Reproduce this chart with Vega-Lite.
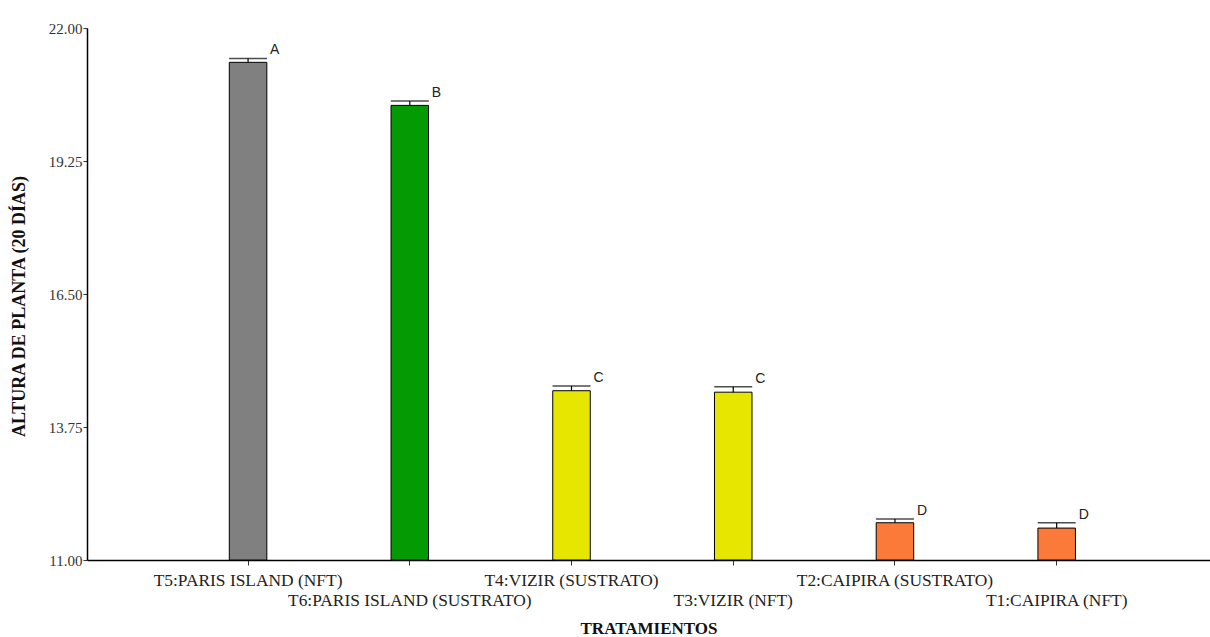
{
  "$schema": "https://vega.github.io/schema/vega-lite/v6.json",
  "width": 1123,
  "height": 532,
  "autosize": {"type": "none"},
  "padding": {"left": 87, "top": 28, "right": 0, "bottom": 77},
  "background": "white",
  "config": {"view": {"stroke": null}},
  "data": {
    "values": [
      {"trat": "T5:PARIS ISLAND (NFT)", "media": 21.29, "sup": 21.37, "letra": "A"},
      {"trat": "T6:PARIS ISLAND (SUSTRATO)", "media": 20.40, "sup": 20.49, "letra": "B"},
      {"trat": "T4:VIZIR (SUSTRATO)", "media": 14.50, "sup": 14.60, "letra": "C"},
      {"trat": "T3:VIZIR (NFT)", "media": 14.47, "sup": 14.58, "letra": "C"},
      {"trat": "T2:CAIPIRA (SUSTRATO)", "media": 11.77, "sup": 11.85, "letra": "D"},
      {"trat": "T1:CAIPIRA (NFT)", "media": 11.66, "sup": 11.77, "letra": "D"}
    ]
  },
  "encoding": {
    "x": {
      "field": "trat",
      "type": "nominal",
      "sort": null,
      "scale": {"paddingInner": 0.768, "paddingOuter": 0.856, "align": 0.514},
      "axis": {
        "title": "TRATAMIENTOS",
        "titleFont": "Liberation Serif",
        "titleFontSize": 17,
        "titleFontWeight": "bold",
        "titleColor": "#111111",
        "titleY": 73,
        "titleBaseline": "alphabetic",
        "labelAngle": 0,
        "labelFont": "Liberation Serif",
        "labelFontSize": 17.4,
        "labelColor": "#222222",
        "labelOverlap": false,
        "labelBound": false,
        "labelLimit": 0,
        "labelBaseline": "top",
        "labelPadding": {
          "condition": {"test": "indexof(['T6:PARIS ISLAND (SUSTRATO)','T3:VIZIR (NFT)','T1:CAIPIRA (NFT)'], datum.value) >= 0", "value": 26},
          "value": 6
        },
        "tickSize": 5,
        "tickColor": "#333333",
        "domainColor": "#000000",
        "domainWidth": 1.5,
        "grid": false
      }
    }
  },
  "layer": [
    {
      "mark": {"type": "bar", "stroke": "#000000", "strokeWidth": 1, "opacity": 1},
      "encoding": {
        "y": {
          "field": "media",
          "type": "quantitative",
          "scale": {"domain": [11, 22], "nice": false, "zero": false},
          "axis": {
            "title": "ALTURA DE PLANTA (20 DÍAS)",
            "titleFont": "Liberation Serif",
            "titleFontSize": 18,
            "titleFontWeight": "bold",
            "titleColor": "#111111",
            "titleX": -68,
            "titleY": 278,
            "titleAngle": -90,
            "titleAlign": "center",
            "titleBaseline": "middle",
            "values": [11, 13.75, 16.5, 19.25, 22],
            "format": ".2f",
            "labelFont": "Liberation Serif",
            "labelFontSize": 15,
            "labelColor": "#333333",
            "labelPadding": 1,
            "tickSize": 4,
            "tickColor": "#333333",
            "domainColor": "#000000",
            "domainWidth": 1.5,
            "grid": false
          }
        },
        "y2": {"datum": 11},
        "color": {
          "field": "trat",
          "type": "nominal",
          "legend": null,
          "scale": {
            "domain": ["T5:PARIS ISLAND (NFT)", "T6:PARIS ISLAND (SUSTRATO)", "T4:VIZIR (SUSTRATO)", "T3:VIZIR (NFT)", "T2:CAIPIRA (SUSTRATO)", "T1:CAIPIRA (NFT)"],
            "range": ["#808080", "#049a04", "#e6e600", "#e6e600", "#fb7a3a", "#fb7a3a"]
          }
        }
      }
    },
    {
      "mark": {"type": "rule", "color": "#000000", "strokeWidth": 1.2},
      "encoding": {
        "y": {"field": "media", "type": "quantitative"},
        "y2": {"field": "sup"}
      }
    },
    {
      "mark": {"type": "tick", "orient": "horizontal", "color": "#000000", "size": 38, "thickness": 1.5},
      "encoding": {
        "y": {"field": "sup", "type": "quantitative"}
      }
    },
    {
      "mark": {"type": "text", "align": "left", "baseline": "bottom", "dx": 22, "dy": -1, "font": "Liberation Sans", "fontSize": 14, "color": "#222222"},
      "encoding": {
        "y": {"field": "sup", "type": "quantitative"},
        "text": {"field": "letra"}
      }
    }
  ]
}
